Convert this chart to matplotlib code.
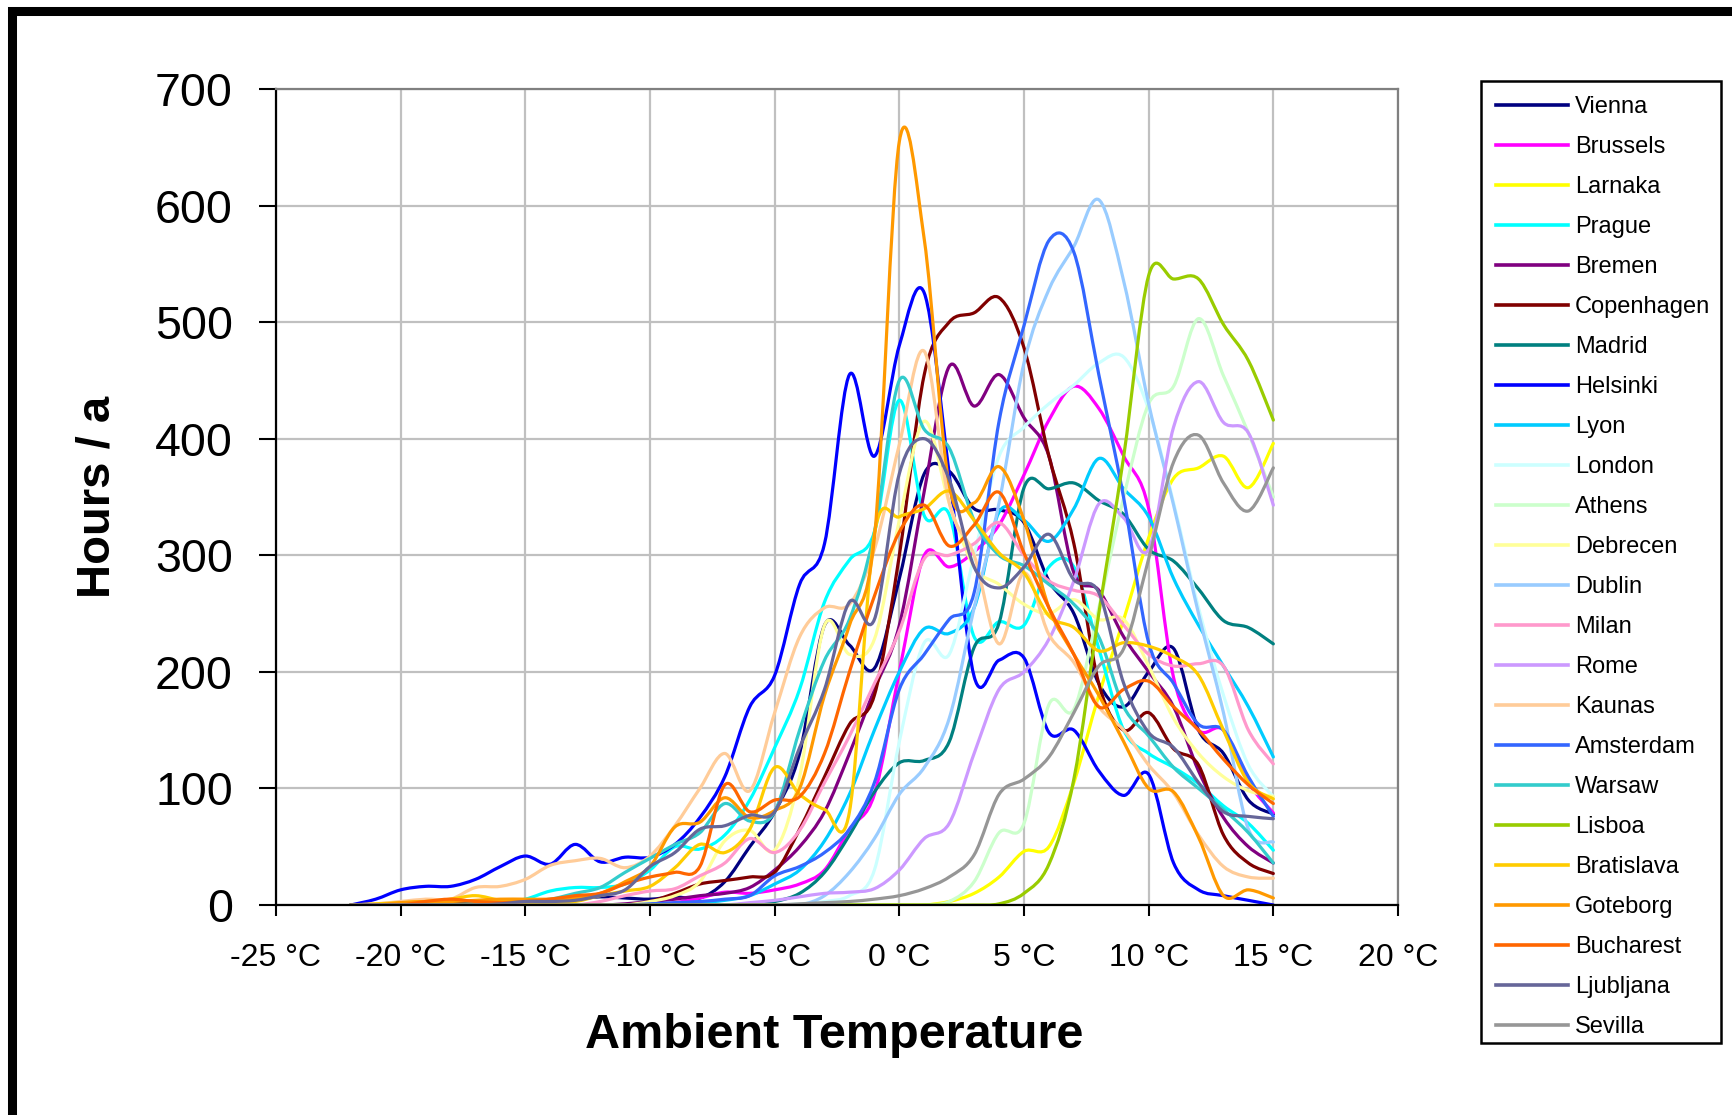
import numpy as np
import matplotlib
matplotlib.use("Agg")
import matplotlib.pyplot as plt
from matplotlib.path import Path
from matplotlib.patches import PathPatch, Rectangle
from matplotlib.lines import Line2D

plt.rcParams['font.family'] = ['Liberation Sans', 'DejaVu Sans']
plt.rcParams['axes.unicode_minus'] = False

# hours per year in each 1 degC bin, -22 .. 15 degC
temps = list(range(-22, 16))

vienna = [0, 0, 1, 1, 2, 2, 3, 3, 4, 5, 7, 6, 5, 7, 6, 20, 50, 80, 130, 240,
          223, 203, 280, 370, 372, 340, 339, 328, 278, 250, 190, 170, 200, 220, 150, 130, 90, 78]
brussels = [0] * 12 + [0, 2, 6, 11, 10, 13, 18, 30, 65, 95, 200, 300, 290, 303, 326, 369,
                       416, 445, 426, 385, 340, 195, 150, 150, 105, 79]
larnaka = [0] * 24 + [3, 10, 24, 46, 50, 105, 180, 245, 315, 366, 375, 385, 358, 396]
prague = [0, 0, 0, 0, 0, 1, 2, 5, 12, 15, 15, 18, 30, 50, 48, 60, 90, 135, 185, 260,
          296, 320, 433, 334, 335, 230, 243, 240, 290, 290, 220, 150, 130, 118, 104, 85, 70, 47]
bremen = [0] * 11 + [1, 3, 5, 8, 10, 15, 30, 50, 80, 130, 185, 240, 355, 462, 428, 455,
                     418, 385, 285, 270, 230, 200, 170, 115, 75, 50, 36]
copenhagen = [0] * 12 + [3, 10, 18, 21, 24, 28, 65, 110, 155, 180, 300, 455, 500, 508, 521,
                         478, 385, 310, 190, 150, 165, 134, 120, 60, 36, 27]
madrid = [0] * 16 + [1, 3, 10, 28, 60, 97, 122, 124, 140, 221, 242, 358, 357, 362, 347,
                     335, 305, 295, 271, 244, 238, 224]
helsinki = [0, 5, 13, 16, 16, 22, 33, 42, 35, 52, 37, 41, 41, 52, 75, 110, 170, 197, 275, 310,
            455, 385, 480, 525, 370, 196, 210, 212, 148, 150, 115, 94, 112, 36, 13, 8, 4, 0]
lyon = [0] * 13 + [1, 2, 4, 8, 18, 30, 55, 95, 150, 200, 237, 233, 255, 337, 330, 312,
                   340, 383, 357, 333, 280, 240, 205, 170, 127]
london = [0] * 18 + [1, 3, 8, 30, 140, 225, 215, 300, 385, 410, 430, 446, 465, 470, 425,
                     345, 255, 180, 120, 93]
athens = [0] * 24 + [3, 20, 62, 70, 172, 168, 255, 350, 430, 445, 503, 454, 405, 350]
debrecen = [0] * 12 + [3, 8, 20, 55, 64, 47, 110, 240, 215, 228, 330, 415, 345, 290, 275,
                       258, 250, 262, 245, 245, 205, 160, 130, 110, 98, 93]
dublin = [0] * 19 + [8, 28, 57, 95, 118, 160, 255, 345, 465, 528, 565, 605, 535, 430, 343,
                     250, 165, 65, 54]
milan = [0] * 10 + [3, 8, 12, 14, 25, 36, 57, 45, 64, 105, 145, 190, 235, 297, 300, 310,
                    328, 300, 278, 270, 265, 240, 215, 205, 207, 205, 150, 121]
rome = [0] * 16 + [2, 4, 7, 10, 11, 14, 30, 57, 70, 130, 185, 200, 228, 278, 344, 332,
                   305, 410, 449, 414, 405, 343]
kaunas = [0, 1, 3, 5, 5, 15, 16, 22, 34, 38, 40, 32, 42, 68, 100, 130, 98, 165, 230, 255,
          258, 305, 395, 475, 345, 300, 224, 285, 232, 208, 170, 150, 120, 96, 60, 33, 24, 23]
amsterdam = [0] * 12 + [1, 2, 3, 5, 8, 25, 33, 45, 65, 105, 185, 215, 245, 268, 415, 497,
                        570, 560, 455, 349, 225, 190, 155, 150, 110, 76]
warsaw = [0, 0, 0, 0, 0, 1, 2, 4, 5, 10, 15, 28, 40, 52, 62, 87, 72, 80, 150, 210,
          245, 320, 450, 408, 392, 330, 300, 291, 275, 258, 230, 170, 145, 118, 100, 82, 62, 36]
lisboa = [0] * 26 + [1, 10, 35, 108, 250, 385, 540, 537, 537, 498, 467, 416]
bratislava = [0, 1, 2, 3, 5, 8, 4, 2, 2, 3, 8, 12, 16, 32, 52, 45, 65, 118, 95, 82,
              80, 318, 333, 340, 355, 330, 302, 285, 248, 238, 218, 225, 222, 213, 197, 150, 105, 91]
goteborg = [0, 0, 2, 3, 3, 4, 5, 5, 5, 6, 10, 20, 33, 67, 71, 92, 75, 81, 100, 180,
            240, 315, 655, 571, 360, 345, 376, 330, 255, 215, 180, 140, 100, 97, 58, 8, 13, 6]
bucharest = [0, 0, 0, 3, 5, 3, 2, 3, 5, 8, 10, 18, 24, 28, 33, 103, 80, 90, 93, 130,
             200, 265, 320, 343, 308, 326, 354, 302, 255, 215, 170, 185, 192, 170, 150, 125, 103, 87]
ljubljana = [0, 0, 0, 0, 0, 0, 1, 3, 3, 4, 8, 13, 33, 45, 65, 68, 77, 80, 135, 185,
             260, 245, 370, 400, 365, 290, 272, 290, 318, 279, 268, 190, 148, 135, 105, 80, 76, 74]
sevilla = [0] * 18 + [1, 2, 3, 5, 8, 14, 24, 43, 95, 108, 127, 165, 205, 220, 297, 380,
                      403, 362, 338, 375]

cities = ["Vienna", "Brussels", "Larnaka", "Prague", "Bremen", "Copenhagen", "Madrid",
          "Helsinki", "Lyon", "London", "Athens", "Debrecen", "Dublin", "Milan", "Rome",
          "Kaunas", "Amsterdam", "Warsaw", "Lisboa", "Bratislava", "Goteborg", "Bucharest",
          "Ljubljana", "Sevilla"]
series = [vienna, brussels, larnaka, prague, bremen, copenhagen, madrid, helsinki, lyon,
          london, athens, debrecen, dublin, milan, rome, kaunas, amsterdam, warsaw, lisboa,
          bratislava, goteborg, bucharest, ljubljana, sevilla]
colors = ["#000080", "#FF00FF", "#FFFF00", "#00FFFF", "#800080", "#800000", "#008080",
          "#0000FF", "#00CCFF", "#CCFFFF", "#CCFFCC", "#FFFF99", "#99CCFF", "#FF99CC",
          "#CC99FF", "#FFCC99", "#3366FF", "#33CCCC", "#99CC00", "#FFCC00", "#FF9900",
          "#FF6600", "#666699", "#969696"]


def smooth_path(x, y):
    """Excel style smoothed line: Catmull-Rom segments as cubic Bezier curves"""
    pts = np.column_stack([x, y]).astype(float)
    ext = np.vstack([pts[0], pts, pts[-1]])
    verts = [pts[0]]
    codes = [Path.MOVETO]
    for i in range(len(pts) - 1):
        p0, p1, p2, p3 = ext[i], ext[i + 1], ext[i + 2], ext[i + 3]
        verts += [p1 + (p2 - p0) / 6.0, p2 - (p3 - p1) / 6.0, p2]
        codes += [Path.CURVE4] * 3
    return Path(verts, codes)


fig = plt.figure(figsize=(17.33, 11.15), dpi=100)
ax = fig.add_axes([276 / 1733, 1 - 905 / 1115, 1122 / 1733, 816 / 1115])

handles = []
for name, vals, c in zip(cities, series, colors):
    patch = PathPatch(smooth_path(temps, vals), facecolor="none", edgecolor=c,
                      lw=2.3, joinstyle="round", capstyle="round")
    ax.add_patch(patch)
    handles.append(Line2D([], [], color=c, lw=2.6))

ax.set_xlim(-25, 20)
ax.set_ylim(0, 700)
ax.set_xticks(range(-25, 21, 5))
ax.set_xticklabels([f"{t} °C" for t in range(-25, 21, 5)])
ax.set_yticks(range(0, 701, 100))

ax.set_axisbelow(True)
ax.grid(True, color="#c0c0c0", lw=1.6)
for side in ["top", "right"]:
    ax.spines[side].set_color("#808080")
    ax.spines[side].set_linewidth(1.6)
for side in ["left", "bottom"]:
    ax.spines[side].set_color("black")
    ax.spines[side].set_linewidth(1.6)
ax.tick_params(axis="y", length=12, width=1.5, pad=19, labelsize=33.5)
ax.tick_params(axis="x", length=8, width=1.5, pad=19, labelsize=23)

fig.text(834 / 1733, 1 - 1035 / 1115, "Ambient Temperature", ha="center", va="center",
         fontsize=35, fontweight="bold")
fig.text(98 / 1733, 1 - 497 / 1115, "Hours / a", ha="center", va="center", rotation=90,
         fontsize=34, fontweight="bold")

# legend entries without frame, box drawn separately to match the original
fig.legend(handles, cities, loc="upper left", bbox_to_anchor=(1481 / 1733, 1 - 81 / 1115),
           fontsize=17, frameon=False, handlelength=3.05, handletextpad=0.28,
           labelspacing=0.762, borderpad=0.64, borderaxespad=0)
fig.patches.append(Rectangle((1481 / 1733, 1 - 1043 / 1115), 240 / 1733, 962 / 1115,
                             transform=fig.transFigure, fill=False, edgecolor="black", lw=1.8))

# outer chart border (cropped on the right)
fig.patches.append(Rectangle((0.0072, -0.0015), 1.1, 0.99013 + 0.0015, transform=fig.transFigure,
                             fill=False, edgecolor="black", lw=6.5, clip_on=False))

fig.savefig("out.png", dpi=100)
